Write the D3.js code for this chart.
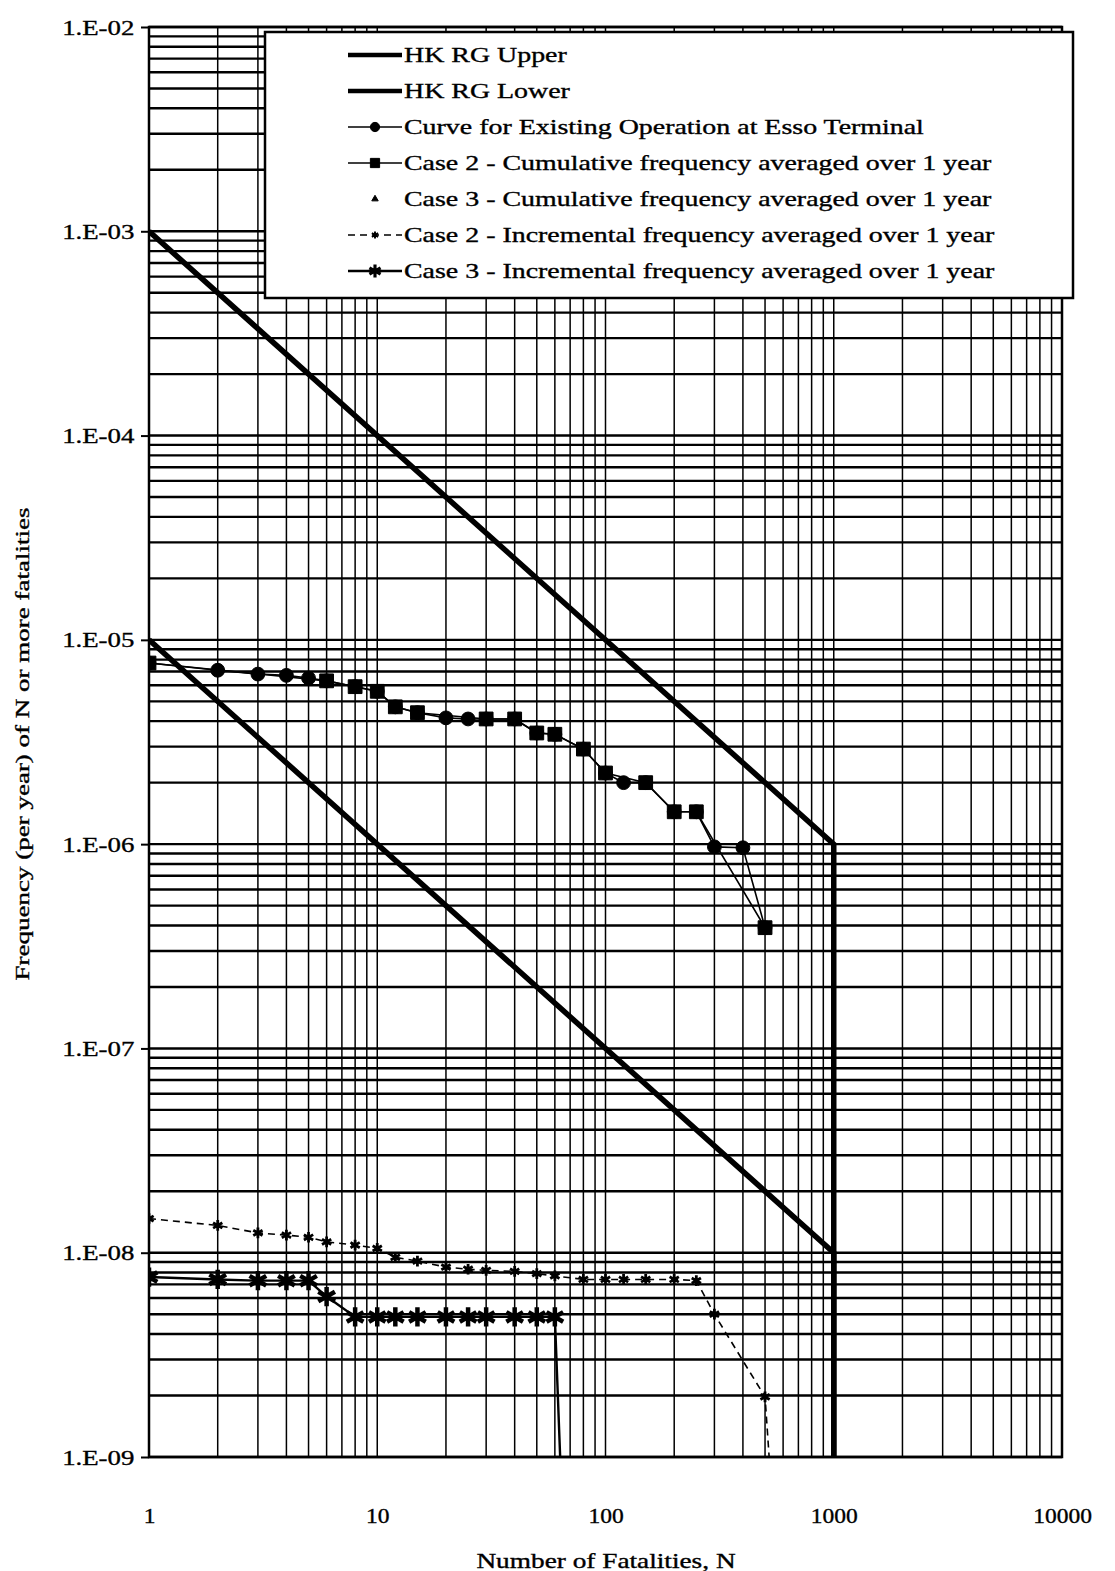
<!DOCTYPE html>
<html>
<head>
<meta charset="utf-8">
<script src="https://cdn.jsdelivr.net/npm/d3@7"></script>
<style>
  body { margin: 0; background: #fff; }
  text { font-family: "Liberation Serif", "DejaVu Serif", serif; fill: #000; stroke: #000; stroke-width: 0.35px; }
</style>
</head>
<body>
<div id="chart"></div>
<script>
// Values
const xTickLabels = [1, 10, 100, 1000, 10000];
const yTickLabels = [1e-2, 1e-3, 1e-4, 1e-5, 1e-6, 1e-7, 1e-8, 1e-9];

const nUpper = [1, 1000, 1000];
const fUpper = [1e-3, 1e-6, 1e-9];
const nLower = [1, 1000, 1000];
const fLower = [1e-5, 1e-8, 1e-9];

const nExisting = [1, 2, 3, 4, 5, 6, 8, 10, 12, 15, 20, 25, 30, 40, 50, 60, 80, 100, 120, 150, 200, 250, 300, 400, 500];
const fExisting = [7.7e-6, 7.1e-6, 6.8e-6, 6.7e-6, 6.5e-6, 6.3e-6, 5.9e-6, 5.6e-6, 4.7e-6, 4.4e-6, 4.15e-6, 4.1e-6, 4.1e-6, 4.1e-6, 3.5e-6, 3.45e-6, 2.92e-6, 2.23e-6, 2.0e-6, 2.0e-6, 1.44e-6, 1.44e-6, 9.7e-7, 9.6e-7, 3.9e-7];

const nCase2Cum = [1, 6, 8, 10, 12, 15, 30, 40, 50, 60, 80, 100, 150, 200, 250, 500];
const fCase2Cum = [7.7e-6, 6.3e-6, 5.9e-6, 5.6e-6, 4.7e-6, 4.4e-6, 4.1e-6, 4.1e-6, 3.5e-6, 3.45e-6, 2.92e-6, 2.23e-6, 2.0e-6, 1.44e-6, 1.44e-6, 3.9e-7];

// triangles are not visible anywhere in the picture (hidden under the other markers)
const nCase3Cum = [];
const fCase3Cum = [];

const nCase2Inc = [1, 2, 3, 4, 5, 6, 8, 10, 12, 15, 20, 25, 30, 40, 50, 60, 80, 100, 120, 150, 200, 250, 300, 500, 600];
const fCase2Inc = [1.47e-8, 1.36e-8, 1.25e-8, 1.22e-8, 1.19e-8, 1.13e-8, 1.09e-8, 1.05e-8, 9.5e-9, 9.1e-9, 8.5e-9, 8.3e-9, 8.2e-9, 8.1e-9, 7.9e-9, 7.7e-9, 7.4e-9, 7.4e-9, 7.4e-9, 7.4e-9, 7.4e-9, 7.3e-9, 5.0e-9, 1.97e-9, 1e-10];

const nCase3Inc = [1, 2, 3, 4, 5, 6, 8, 10, 12, 15, 20, 25, 30, 40, 50, 60, 80];
const fCase3Inc = [7.6e-9, 7.4e-9, 7.3e-9, 7.3e-9, 7.3e-9, 6.1e-9, 4.85e-9, 4.85e-9, 4.85e-9, 4.85e-9, 4.85e-9, 4.85e-9, 4.85e-9, 4.85e-9, 4.85e-9, 4.85e-9, 1e-12];

const legendLabels = [
    "HK RG Upper",
    "HK RG Lower",
    "Curve for Existing Operation at Esso Terminal",
    "Case 2 - Cumulative frequency averaged over 1 year",
    "Case 3 - Cumulative frequency averaged over 1 year",
    "Case 2 - Incremental frequency averaged over 1 year",
    "Case 3 - Incremental frequency averaged over 1 year"
];

// Set dimensions
const W = 1115, H = 1571;
const plot = { left: 149, right: 1062, top: 27, bottom: 1457 };

const svg = d3.select("#chart")
    .append("svg")
    .attr("width", W)
    .attr("height", H);

const x = d3.scaleLog().domain([1, 10000]).range([plot.left, plot.right]);
const y = d3.scaleLog().domain([1e-2, 1e-9]).range([plot.top, plot.bottom]);

const zip = (ns, fs) => ns.map((n, i) => ({ n: n, f: fs[i] }));

svg.append("clipPath").attr("id", "clip")
    .append("rect")
    .attr("x", plot.left).attr("y", plot.top)
    .attr("width", plot.right - plot.left)
    .attr("height", plot.bottom - plot.top);

// Grid lines (every 1..9 of each decade)
svg.append("g")
    .selectAll("line")
    .data(x.ticks())
    .enter().append("line")
    .attr("x1", d => x(d)).attr("x2", d => x(d))
    .attr("y1", plot.top).attr("y2", plot.bottom)
    .attr("stroke", "#000")
    .attr("stroke-width", 1.5);

svg.append("g")
    .selectAll("line")
    .data(y.ticks())
    .enter().append("line")
    .attr("x1", plot.left).attr("x2", plot.right)
    .attr("y1", d => y(d)).attr("y2", d => y(d))
    .attr("stroke", "#000")
    .attr("stroke-width", 2.4);

// Frame
svg.append("rect")
    .attr("x", plot.left).attr("y", plot.top)
    .attr("width", plot.right - plot.left)
    .attr("height", plot.bottom - plot.top)
    .attr("fill", "none")
    .attr("stroke", "#000")
    .attr("stroke-width", 2.5);

// Y axis (scanned lettering is wider than the font, so scale it sideways)
const yAxis = svg.append("g")
    .attr("transform", `translate(${plot.left},0)`)
    .call(d3.axisLeft(y)
        .tickValues(yTickLabels)
        .tickSize(8)
        .tickPadding(4)
        .tickFormat(d => "1.E-" + String(Math.round(-Math.log10(d))).padStart(2, "0")));
yAxis.select(".domain").remove();
yAxis.selectAll("line").attr("stroke-width", 2);
yAxis.selectAll("text")
    .attr("font-size", 22)
    .style("font-family", "'Liberation Serif', serif")
    .attr("transform", "scale(1.22,1)");

// X axis
const xAxis = svg.append("g")
    .attr("transform", `translate(0,${plot.bottom})`)
    .call(d3.axisBottom(x)
        .tickValues(xTickLabels)
        .tickSize(0)
        .tickPadding(51)
        .tickFormat(d3.format("d")));
xAxis.select(".domain").remove();
xAxis.selectAll("text")
    .attr("font-size", 21)
    .style("font-family", "'Liberation Serif', serif")
    .attr("transform", "scale(1.12,1)");

// Axis titles
svg.append("text")
    .attr("transform", "translate(606,1568) scale(1.3,1)")
    .attr("text-anchor", "middle")
    .attr("font-size", 21)
    .text("Number of Fatalities, N");

svg.append("text")
    .attr("transform", "translate(29,744) rotate(-90) scale(1.5,1)")
    .attr("text-anchor", "middle")
    .attr("font-size", 18)
    .text("Frequency (per year) of N or more fatalities");

// Legend box
svg.append("rect")
    .attr("x", 265).attr("y", 32)
    .attr("width", 808).attr("height", 266)
    .attr("fill", "#fff")
    .attr("stroke", "#000")
    .attr("stroke-width", 2.5);

// Series
const line = d3.line().x(d => x(d.n)).y(d => y(d.f));
const data = svg.append("g").attr("clip-path", "url(#clip)");

const series = [
    { pts: zip(nUpper, fUpper), width: 5.5, dash: null, sym: null },
    { pts: zip(nLower, fLower), width: 5.5, dash: null, sym: null },
    { pts: zip(nExisting, fExisting), width: 1.6, dash: null, sym: d3.symbolCircle, size: 150, fill: true },
    { pts: zip(nCase2Cum, fCase2Cum), width: 1.6, dash: null, sym: d3.symbolSquare, size: 190, fill: true },
    { pts: zip(nCase3Cum, fCase3Cum), width: 0, dash: null, sym: d3.symbolTriangle, size: 40, fill: true },
    { pts: zip(nCase2Inc, fCase2Inc), width: 1.6, dash: "7,5", sym: d3.symbolAsterisk, size: 80, fill: false, sw: 2.8 },
    { pts: zip(nCase3Inc, fCase3Inc), width: 2.4, dash: null, sym: d3.symbolAsterisk, size: 260, fill: false, sw: 4.5 }
];

series.forEach(s => {
    if (s.width > 0 && s.pts.length) {
        data.append("path")
            .datum(s.pts)
            .attr("fill", "none")
            .attr("stroke", "#000")
            .attr("stroke-width", s.width)
            .attr("stroke-dasharray", s.dash)
            .attr("d", line);
    }
    if (s.sym) {
        data.selectAll(null)
            .data(s.pts.filter(d => d.f >= 1e-9))
            .enter().append("path")
            .attr("transform", d => `translate(${x(d.n)},${y(d.f)})`)
            .attr("d", d3.symbol().type(s.sym).size(s.size))
            .attr("fill", s.fill ? "#000" : "none")
            .attr("stroke", "#000")
            .attr("stroke-width", s.sw || 1);
    }
});

// Legend entries
const legend = svg.append("g")
    .selectAll("g")
    .data(legendLabels)
    .enter().append("g")
    .attr("transform", (d, i) => `translate(0,${55 + i * 36})`);

legend.each(function(d, i) {
    const g = d3.select(this);
    const s = series[i];
    if (s.width > 0) {
        g.append("line")
            .attr("x1", 348).attr("x2", 402)
            .attr("y1", 0).attr("y2", 0)
            .attr("stroke", "#000")
            .attr("stroke-width", s.width > 3 ? 4.5 : s.width)
            .attr("stroke-dasharray", s.dash);
    }
    if (s.sym) {
        g.append("path")
            .attr("transform", "translate(375,0)")
            .attr("d", d3.symbol().type(s.sym).size(s.size * 0.45))
            .attr("fill", s.fill ? "#000" : "none")
            .attr("stroke", "#000")
            .attr("stroke-width", s.sw ? s.sw * 0.7 : 1);
    }
    g.append("text")
        .attr("transform", "translate(404,0) scale(1.33,1)")
        .attr("dy", "0.35em")
        .attr("font-size", 21)
        .text(d);
});
</script>
</body>
</html>
